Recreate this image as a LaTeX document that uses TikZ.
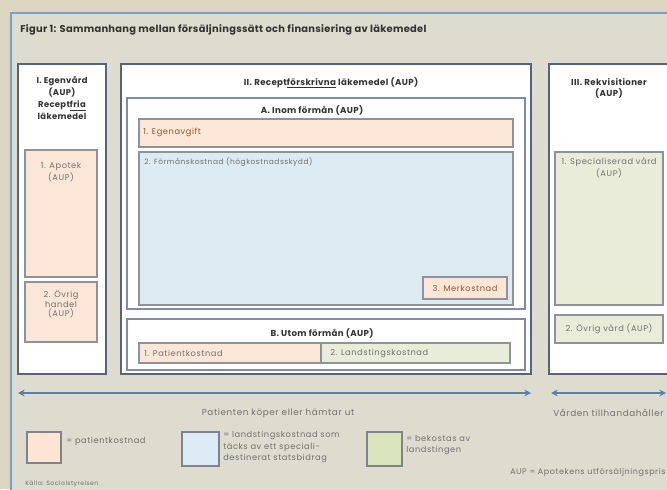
\documentclass[tikz,border=0pt]{standalone}
\usepackage{fontspec}
\setmainfont{Poppins}
\usetikzlibrary{fit,arrows.meta}
\definecolor{bgout}{HTML}{DCD6C1}
\definecolor{panel}{HTML}{DEDBCF}
\definecolor{panelline}{HTML}{7C9CCB}
\definecolor{frame}{HTML}{56637F}
\definecolor{subframe}{HTML}{7F8BAA}
\definecolor{inline}{HTML}{8E929C}
\definecolor{peach}{HTML}{FBE6D8}
\definecolor{lblue}{HTML}{DCEAF1}
\definecolor{lgreen}{HTML}{E9ECD9}
\definecolor{lgpeach}{HTML}{FCE5D5}
\definecolor{lgblue}{HTML}{DCEAF6}
\definecolor{lggreen}{HTML}{D9E3BC}
\definecolor{txt}{HTML}{707070}
\definecolor{hdr}{HTML}{333333}
\definecolor{arr}{HTML}{5D7FA9}
\newcommand{\hdrfont}[2]{\bfseries\fontsize{#1}{#2}\selectfont\addfontfeatures{LetterSpace=4}}
\newcommand{\bodyfont}[2]{\fontsize{#1}{#2}\selectfont\addfontfeatures{LetterSpace=7}}
\tikzset{
  bigbox/.style={draw=frame, line width=1.3pt, fill=white, inner sep=0pt},
  subbox/.style={draw=subframe, line width=1pt, fill=white, inner sep=0pt},
  cellbox/.style={draw=inline, line width=0.8pt, inner sep=0pt},
  hdrtext/.style={font=\hdrfont{6.5}{7.2}, text=hdr, align=center, inner sep=0pt},
  bodytext/.style={font=\bodyfont{6.2}{6.9}, text=txt, align=center, inner sep=0pt},
  lgtext/.style={font=\bodyfont{6.2}{7.6}, text=txt, align=left, inner sep=0pt},
  lgbox/.style={draw=inline!90!black, line width=1pt, inner sep=0pt},
  dblarrow/.style={draw=arr, line width=1.1pt, {Stealth[length=5pt,width=5pt]}-{Stealth[length=5pt,width=5pt]}}
}
\begin{document}
\begin{tikzpicture}[x=0.75pt,y=-0.75pt]
\useasboundingbox (0,0) rectangle (667,489);
\clip (0,0) rectangle (667,489);
% background
\fill[bgout] (0,0) rectangle (667,489);
\fill[panel] (11,13) rectangle (680,500);
\draw[panelline, line width=0.9pt] (11,500) -- (11,13) -- (680,13);
% title
\node[anchor=west, font=\bfseries\fontsize{7.4}{9}\selectfont\addfontfeatures{LetterSpace=3}, text=hdr, inner sep=0pt] (title) at (20,30) {Figur 1: Sammanhang mellan försäljningssätt och finansiering av läkemedel};

% Box I
\node[bigbox, fit={(18,64) (106,374)}] (boxI) {};
\node[hdrtext, anchor=north, font=\hdrfont{6.3}{7.6}] (hI) at (62,76) {I. Egenvård\\[1.6pt](AUP)\\[1.6pt]Recept\underline{fria}\\[1.2pt]läkemedel};
\node[cellbox, fill=peach, fit={(25,150) (97,277)}] (apotek) {};
\node[bodytext, anchor=north] (tapotek) at (61,162) {1. Apotek\\[0.6pt](AUP)};
\node[cellbox, fill=peach, fit={(25,282) (97,342)}] (ovrighandel) {};
\node[bodytext, anchor=north] (tovrighandel) at (61,290) {2. Övrig\\[0.4pt]handel\\[0.4pt](AUP)};

% Box II
\node[bigbox, fit={(121,64) (531,374)}] (boxII) {};
\node[hdrtext] (hII) at (331,83) {II. Recept\underline{förskrivna} läkemedel (AUP)};
\node[subbox, fit={(127,98) (525,309)}] (boxA) {};
\node[hdrtext] (hA) at (312,110) {A. Inom förmån (AUP)};
\node[cellbox, fill=peach, fit={(139,119) (513,147)}] (egen) {};
\node[bodytext, anchor=west, text=brown!70!black] (tegen) at (143,132) {1. Egenavgift};
\node[cellbox, fill=lblue, fit={(139,152) (513,305)}] (forman) {};
\node[bodytext, anchor=west, font=\bodyfont{5.6}{7}] (tforman) at (144,162) {2. Förmånskostnad (högkostnadsskydd)};
\node[cellbox, fill=peach, fit={(423,277) (507,299)}] (mer) {};
\node[bodytext, text=brown!70!black] (tmer) at (mer.center) {3. Merkostnad};
\node[subbox, fit={(127,319) (525,370)}] (boxB) {};
\node[hdrtext] (hB) at (322,333) {B. Utom förmån (AUP)};
\node[cellbox, fill=peach, fit={(139,343) (321,363)}] (pat) {};
\node[bodytext, anchor=west] (tpat) at (144,353) {1. Patientkostnad};
\node[cellbox, fill=lgreen, fit={(321,343) (510,363)}] (land) {};
\node[bodytext, anchor=west] (tland) at (330,353) {2. Landstingskostnad};

% Box III
\node[bigbox, fit={(549,64) (680,374)}] (boxIII) {};
\node[hdrtext, anchor=north] (hIII) at (609,78) {III. Rekvisitioner\\[1pt](AUP)};
\node[cellbox, fill=lgreen, fit={(555,152) (663,305)}] (spec) {};
\node[bodytext, anchor=north] (tspec) at (609,157) {1. Specialiserad vård\\[0.6pt](AUP)};
\node[cellbox, fill=lgreen, fit={(555,315) (663,343)}] (ovrigvard) {};
\node[bodytext] (tovrigvard) at (ovrigvard.center) {2. Övrig vård (AUP)};

% arrows
\coordinate (a1) at (18,393);
\coordinate (a2) at (531,393);
\coordinate (a3) at (551,393);
\coordinate (a4) at (666,393);
\draw[dblarrow] (a1) -- (a2);
\draw[dblarrow] (a3) -- (a4);
\node[bodytext, font=\bodyfont{6.6}{8}] (tpatient) at (278,413) {Patienten köper eller hämtar ut};
\node[bodytext, anchor=west, font=\bodyfont{6.6}{8}] (tvard) at (553,413) {Vården tillhandahåller};

% legend
\node[lgbox, fill=lgpeach, fit={(27,432) (61,463)}] (lg1) {};
\node[lgtext, anchor=west] (tlg1) at (66,441) {= patientkostnad};
\node[lgbox, fill=lgblue, fit={(182,432) (219,466)}] (lg2) {};
\node[lgtext, anchor=north west] (tlg2) at (223,431) {= landstingskostnad som\\[1pt] täcks av ett speciali-\\[1pt] destinerat statsbidrag};
\node[lgbox, fill=lggreen, fit={(367,432) (402,466)}] (lg3) {};
\node[lgtext, anchor=north west] (tlg3) at (406,435) {= bekostas av\\[1pt] landstingen};
\node[lgtext, anchor=west, font=\bodyfont{4.6}{6}] (kalla) at (25,484) {Källa: Socialstyrelsen};
\node[lgtext, anchor=west, font=\bodyfont{6}{7}] (aup) at (510,473) {AUP = Apotekens utförsäljningspris};
\end{tikzpicture}
\end{document}
